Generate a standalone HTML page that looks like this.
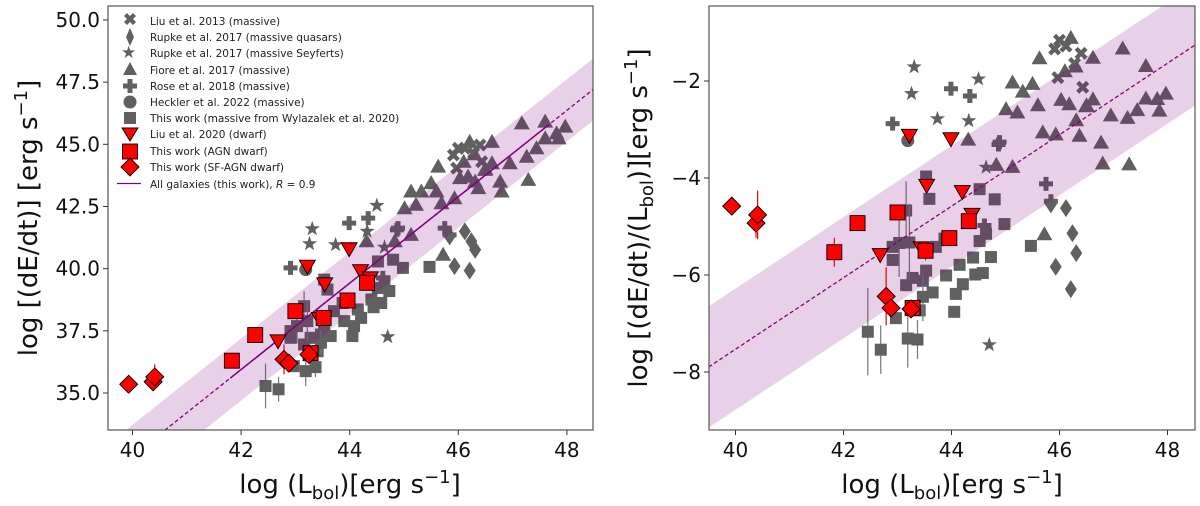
<!DOCTYPE html>
<html><head><meta charset="utf-8"><style>
html,body{margin:0;padding:0;background:#fff;}
svg{display:block;font-family:"DejaVu Sans","Liberation Sans",sans-serif;}
</style></head><body>
<svg id="fig" width="1200" height="506" viewBox="0 0 1200 506" xmlns="http://www.w3.org/2000/svg"></svg>
<script>
// ---- data (x = log Lbol, y = log dE/dt) ----
const liu13X=[45.91,46.0,46.4,46.12,46.28,45.97,46.43];
const liu13Y=[44.57,44.84,44.97,44.84,44.64,44.04,44.3];
const rupQX=[45.93,46.21,46.12,46.24,46.31,45.84];
const rupQY=[40.1,39.92,41.5,41.1,40.76,41.3];
const rupSX=[43.31,43.26,43.74,44.5,44.32,44.64,44.7];
const rupSY=[41.6,41.0,40.96,42.54,41.5,40.86,37.26];
const fioreX=[47.17,47.6,47.97,47.81,47.6,47.85,46.95,47.26,47.44,47.29,46.62,46.21,45.63,46.03,46.31,46.62,46.77,46.8,45.5,45.6,45.32,45.13,45.22,45.01,45.69,45.93,45.13,44.83,44.31,45.72,46.49,46.18,46.37,46.1,46.3,46.5];
const fioreY=[45.84,45.91,45.71,45.44,45.24,45.24,44.24,44.5,44.84,43.57,45.1,45.1,44.1,43.64,43.5,44.24,43.5,43.1,43.44,43.1,43.1,43.1,42.57,42.43,42.63,42.83,41.36,41.1,41.1,40.56,43.97,43.7,43.24,44.3,44.6,44.0];
const roseX=[42.91,43.99,44.34,44.87,44.89,45.75,45.84,44.61];
const roseY=[40.03,41.83,42.03,41.56,41.63,41.63,41.36,39.63];
const heckX=[43.19];
const heckY=[39.96];
const wylX=[45.47,44.52,44.8,44.98,44.73,44.52,44.64,44.44,44.15,44.21,44.08,44.05,43.65,43.53,43.47,43.71,43.53,43.59,43.16,42.91,42.91,43.16,43.28,43.19,43.37,42.97,42.69,42.45,43.41,43.47,43.9,44.4,44.58,43.22,43.03,43.87];
const wylY=[40.07,40.29,40.36,40.03,39.1,39.22,39.49,38.45,38.36,38.02,37.69,37.29,37.29,37.62,37.35,38.29,39.56,39.16,38.49,37.49,37.22,36.95,37.22,35.88,36.04,36.08,35.15,35.28,36.68,37.02,37.89,38.76,38.62,37.89,37.69,38.62];
const wylErr=[0,0,0,0,0,0,0,0,0,0,0,0,0,0,0,0,0,0,0.6,0,0,0,0,0.6,0.4,0,0.5,0.9,0,0.5,0,0,0,0.8,0.7,0];
const liu20X=[42.68,43.22,43.54,43.99,44.2,44.38,43.44];
const liu20Y=[37.1,40.1,39.39,40.8,39.92,39.63,38.0];
const agnX=[41.83,42.26,43.0,43.52,43.28,43.96,44.32];
const agnY=[36.3,37.33,38.29,38.02,36.6,38.72,39.43];
const agnErr=[0.3,0,0,0.2,0,0,0];
const sfX=[39.93,40.38,40.41,42.79,42.88,43.25];
const sfY=[35.35,35.45,35.65,36.35,36.2,36.55];
const sfErr=[0,0.3,0.5,0.6,0,0];
const fitSlope=1.737, fitIntercept40=32.47, bandHalf=1.25;
const xTicks=[40,42,44,46,48];
const yTicksL=[35.0,37.5,40.0,42.5,45.0,47.5,50.0];
const yTicksR=[-8,-6,-4,-2];

const NS="http://www.w3.org/2000/svg";
const svg=document.getElementById('fig');
function el(tag,attrs,parent){const e=document.createElementNS(NS,tag);for(const k in attrs)e.setAttribute(k,attrs[k]);(parent||svg).appendChild(e);return e;}

function makePanel(P){
  const g=el('g',{});
  
  
  const sx=v=>P.x0+(v-40)*P.xs;
  const sy=v=>P.y0-(v-P.yref)*P.ys;
  const clipId='clip'+P.name;
  const cp=el('clipPath',{id:clipId},g);
  el('rect',{x:P.L,y:P.T,width:P.R-P.L,height:P.B-P.T},cp);
  const plot=el('g',{'clip-path':'url(#'+clipId+')'},g);
  const tr=(x,y)=>P.right?y-x:y;
  const GRAY='#606060';
  function marker(kind,cx,cy,fill,stroke,parent,nm){
    let e;
    if(kind==='sq'){e=el('rect',{x:cx-6,y:cy-6,width:12,height:12},parent);}
    else if(kind==='bigsq'){e=el('rect',{x:cx-7.5,y:cy-7.5,width:15,height:15},parent);}
    else if(kind==='tri'){e=el('polygon',{points:`${cx},${cy-8} ${cx+8},${cy+6} ${cx-8},${cy+6}`},parent);}
    else if(kind==='vtri'){e=el('polygon',{points:`${cx-8},${cy-6} ${cx+8},${cy-6} ${cx},${cy+8}`},parent);}
    else if(kind==='dia'){e=el('polygon',{points:`${cx},${cy-9} ${cx+6},${cy} ${cx},${cy+9} ${cx-6},${cy}`},parent);}
    else if(kind==='bigdia'){e=el('polygon',{points:`${cx},${cy-9} ${cx+9},${cy} ${cx},${cy+9} ${cx-9},${cy}`},parent);}
    else if(kind==='circ'){e=el('circle',{cx:cx,cy:cy,r:6.5},parent);}
    else if(kind==='star'){let p=[];for(let i=0;i<10;i++){const r=i%2?3.2:8,a=-Math.PI/2+i*Math.PI/5;p.push((cx+r*Math.cos(a)).toFixed(1)+','+(cy+r*Math.sin(a)).toFixed(1));}e=el('polygon',{points:p.join(' ')},parent);}
    else if(kind==='plus'){const a=2.5,b=7;e=el('polygon',{points:`${cx-a},${cy-b} ${cx+a},${cy-b} ${cx+a},${cy-a} ${cx+b},${cy-a} ${cx+b},${cy+a} ${cx+a},${cy+a} ${cx+a},${cy+b} ${cx-a},${cy+b} ${cx-a},${cy+a} ${cx-b},${cy+a} ${cx-b},${cy-a} ${cx-a},${cy-a}`},parent);}
    else if(kind==='x'){const d=2.2,b=6.5;e=el('polygon',{points:`${cx-b},${cy-b+d*1.4} ${cx-b+d*1.4},${cy-b} ${cx},${cy-d*1.4} ${cx+b-d*1.4},${cy-b} ${cx+b},${cy-b+d*1.4} ${cx+d*1.4},${cy} ${cx+b},${cy+b-d*1.4} ${cx+b-d*1.4},${cy+b} ${cx},${cy+d*1.4} ${cx-b+d*1.4},${cy+b} ${cx-b},${cy+b-d*1.4} ${cx-d*1.4},${cy}`},parent);}
    e.setAttribute('fill',fill);
    if(stroke){e.setAttribute('stroke',stroke);e.setAttribute('stroke-width','0.9');}
    
    
    return e;
  }
  function series(xs,ys,kind,fill,stroke,nm,errs,ecol,parent){
    for(let i=0;i<xs.length;i++){
      const cx=sx(xs[i]),cy=sy(tr(xs[i],ys[i]));
      if(errs&&errs[i]){const ln=el('line',{x1:cx,x2:cx,y1:cy-errs[i]*P.ys,y2:cy+errs[i]*P.ys,stroke:ecol,'stroke-width':1.2},parent);
        
        }
      marker(kind,cx,cy,fill,stroke,parent,nm);
    }
  }
  // gray series
  series(wylX,wylY,'sq',GRAY,null,'massive-square',wylErr,'#777',plot);
  series(fioreX,fioreY,'tri',GRAY,null,'fiore-triangle',null,null,plot);
  series(liu13X,liu13Y,'x',GRAY,null,'liu2013-x',null,null,plot);
  series(rupQX,rupQY,'dia',GRAY,null,'rupke-quasar-diamond',null,null,plot);
  series(rupSX,rupSY,'star',GRAY,null,'rupke-seyfert-star',null,null,plot);
  series(roseX,roseY,'plus',GRAY,null,'rose-plus',null,null,plot);
  series(heckX,heckY,'circ',GRAY,null,'heckler-circle',null,null,plot);
  // band + fit line
  const xa=39.0,xb=49.0;
  const fy=x=>tr(x,fitIntercept40+fitSlope*(x-40));
  const band=el('polygon',{points:`${sx(xa)},${sy(fy(xa)+bandHalf)} ${sx(xb)},${sy(fy(xb)+bandHalf)} ${sx(xb)},${sy(fy(xb)-bandHalf)} ${sx(xa)},${sy(fy(xa)-bandHalf)}`,fill:'#800080','fill-opacity':0.18},plot);
  
  
  const fl=el('line',{x1:sx(xa),y1:sy(fy(xa)),x2:sx(xb),y2:sy(fy(xb)),stroke:'#800080','stroke-width':1.3,'stroke-dasharray':'4,2.5'},plot);
  
  
  if(!P.right){
    const sl=el('line',{x1:sx(41.8),y1:sy(fy(41.8)),x2:sx(47.65),y2:sy(fy(47.65)),stroke:'#800080','stroke-width':1.5},plot);
    
    
  }
  // red series
  series(liu20X,liu20Y,'vtri','#ff0000','#000','liu2020-triangle',null,null,plot);
  series(agnX,agnY,'bigsq','#ff0000','#000','agn-dwarf-square',agnErr,'#e00',plot);
  series(sfX,sfY,'bigdia','#ff0000','#000','sf-agn-dwarf-diamond',sfErr,'#e00',plot);
  // frame
  const fr=el('rect',{x:P.L,y:P.T,width:P.R-P.L,height:P.B-P.T,fill:'none',stroke:'#555','stroke-width':1.2},g);
  
  
  // ticks
  xTicks.forEach(t=>{const x=sx(t);
    el('line',{x1:x,x2:x,y1:P.B,y2:P.B+5,stroke:'#333'},g);
    const tx=el('text',{x:x,y:P.B+27,'font-size':20,'text-anchor':'middle',fill:'#111'},g);tx.textContent=t;
    
    });
  P.yt.forEach(t=>{const y=sy(t);
    el('line',{x1:P.L-5,x2:P.L,y1:y,y2:y,stroke:'#333'},g);
    const tx=el('text',{x:P.L-8,y:y+7,'font-size':20,'text-anchor':'end',fill:'#111'},g);
    tx.textContent=P.right?('\u2212'+Math.abs(t)):t.toFixed(1);
    
    });
  return {g,sx,sy};
}
const left=makePanel({name:'left-panel',L:108,R:593,T:6,B:430,x0:132.5,xs:54.3,y0:393,yref:35,ys:24.87,yt:yTicksL,right:false});
const right=makePanel({name:'right-panel',L:709,R:1195,T:6,B:430,x0:735.5,xs:54,y0:81,yref:-2,ys:48.5,yt:yTicksR,right:true});
</script>
<svg width="0" height="0"></svg>
<div style="position:absolute;left:0;top:0;width:1200px;height:506px;pointer-events:none">
<svg width="1200" height="506" style="position:absolute;left:0;top:0" font-family="DejaVu Sans, Liberation Sans, sans-serif">
  <text x="350" y="493" font-size="26" text-anchor="middle" fill="#111">log (L<tspan font-size="18" dy="6">bol</tspan><tspan dy="-6">)[erg s</tspan><tspan font-size="18" dy="-10">−1</tspan><tspan dy="10">]</tspan></text>
  <text x="952" y="493" font-size="26" text-anchor="middle" fill="#111">log (L<tspan font-size="18" dy="6">bol</tspan><tspan dy="-6">)[erg s</tspan><tspan font-size="18" dy="-10">−1</tspan><tspan dy="10">]</tspan></text>
  <text transform="translate(37,218) rotate(-90)" font-size="26" text-anchor="middle" fill="#111">log [(dE/dt)] [erg s<tspan font-size="18" dy="-10">−1</tspan><tspan dy="10">]</tspan></text>
  <text transform="translate(647,218) rotate(-90)" font-size="26" text-anchor="middle" fill="#111">log [(dE/dt)/(L<tspan font-size="18" dy="6">bol</tspan><tspan dy="-6">)][erg s</tspan><tspan font-size="18" dy="-10">−1</tspan><tspan dy="10">]</tspan></text>
  <g font-size="10.5" fill="#222">
    <g><path d="M124,16 l3,-3 3,3 3,-3 3,3 -3,3 3,3 -3,3 -3,-3 -3,3 -3,-3 3,-3z" fill="#606060"/><text x="150" y="25">Liu et al. 2013 (massive)</text></g>
    <g><polygon points="130,28 134,37 130,46 126,37" fill="#606060"/><text x="150" y="41">Rupke et al. 2017 (massive quasars)</text></g>
    <g><text x="121" y="58" font-size="17" fill="#606060">★</text><text x="150" y="57">Rupke et al. 2017 (massive Seyferts)</text></g>
    <g><polygon points="130,62 137,75 123,75" fill="#606060"/><text x="150" y="74">Fiore et al. 2017 (massive)</text></g>
    <g><polygon points="127.5,79 132.5,79 132.5,83.5 137,83.5 137,88.5 132.5,88.5 132.5,93 127.5,93 127.5,88.5 123,88.5 123,83.5 127.5,83.5" fill="#606060"/><text x="150" y="90">Rose et al. 2018 (massive)</text></g>
    <g><circle cx="130" cy="102" r="6.5" fill="#606060"/><text x="150" y="106">Heckler et al. 2022 (massive)</text></g>
    <g><rect x="124" y="112" width="12" height="12" fill="#606060"/><text x="150" y="122">This work (massive from Wylazalek et al. 2020)</text></g>
    <g><polygon points="122,128 138,128 130,141" fill="#ff0000" stroke="#000" stroke-width="0.9"/><text x="150" y="138">Liu et al. 2020 (dwarf)</text></g>
    <g><rect x="122.5" y="144" width="15" height="15" fill="#ff0000" stroke="#000" stroke-width="0.9"/><text x="150" y="155">This work (AGN dwarf)</text></g>
    <g><polygon points="130,158 139,167 130,176 121,167" fill="#ff0000" stroke="#000" stroke-width="0.9"/><text x="150" y="171">This work (SF-AGN dwarf)</text></g>
    <g><line x1="117" x2="141" y1="183.5" y2="183.5" stroke="#800080" stroke-width="1.3"/><text x="150" y="188">All galaxies (this work), <tspan font-style="italic">R</tspan> = 0.9</text></g>
  </g>
</svg>
</div>
</body></html>
